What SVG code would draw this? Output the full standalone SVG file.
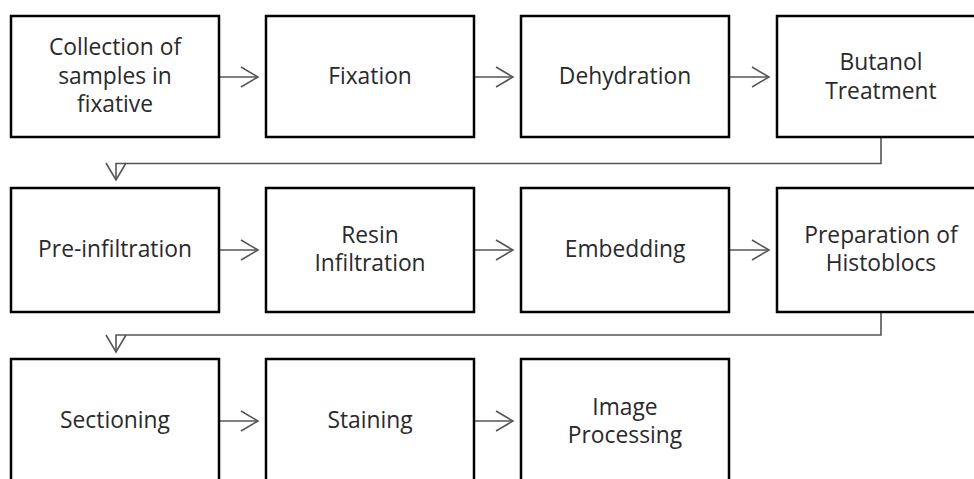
<svg xmlns="http://www.w3.org/2000/svg" width="974" height="479" viewBox="0 0 974 479">
<defs>
<marker id="arr" markerUnits="userSpaceOnUse" markerWidth="20" markerHeight="24" refX="17.5" refY="11" orient="auto" overflow="visible">
<path d="M0.5,1 L17.5,11 L0.5,21" fill="none" stroke="#555" stroke-width="1.6"/>
</marker>
<style>
.box{fill:#fff;stroke:#000;stroke-width:2.5}
.lbl{font-family:"Open Sans","Liberation Sans",sans-serif;font-size:22.8px;fill:#2a2a2a;text-anchor:middle}
.con{fill:none;stroke:#555;stroke-width:1.6;marker-end:url(#arr)}
</style>
</defs>
<rect width="974" height="479" fill="#fff"/>
<g id="connectors">
<path class="con" d="M219,77 H258"/>
<path class="con" d="M474,77 H513"/>
<path class="con" d="M729,77 H769"/>
<path class="con" d="M881,138 V163.5 H116 V180"/>
<path class="con" d="M219,250 H258"/>
<path class="con" d="M474,250 H513"/>
<path class="con" d="M729,250 H769"/>
<path class="con" d="M881,312 V335 H116 V352"/>
<path class="con" d="M219,421 H258"/>
<path class="con" d="M474,421 H513"/>
</g>
<g id="n1"><rect class="box" x="11" y="16" width="208" height="121"/><text class="lbl" x="115" y="55">Collection of</text><text class="lbl" x="115" y="83.5">samples in</text><text class="lbl" x="115" y="112">fixative</text></g>
<g id="n2"><rect class="box" x="266" y="16" width="208" height="121"/><text class="lbl" x="370" y="84">Fixation</text></g>
<g id="n3"><rect class="box" x="521" y="16" width="208" height="121"/><text class="lbl" x="625" y="84">Dehydration</text></g>
<g id="n4"><rect class="box" x="777" y="16" width="208" height="121"/><text class="lbl" x="881" y="70">Butanol</text><text class="lbl" x="881" y="99">Treatment</text></g>
<g id="n5"><rect class="box" x="11" y="188" width="208" height="124"/><text class="lbl" x="115" y="257">Pre-infiltration</text></g>
<g id="n6"><rect class="box" x="266" y="188" width="208" height="124"/><text class="lbl" x="370" y="243">Resin</text><text class="lbl" x="370" y="271">Infiltration</text></g>
<g id="n7"><rect class="box" x="521" y="188" width="208" height="124"/><text class="lbl" x="625" y="257">Embedding</text></g>
<g id="n8"><rect class="box" x="777" y="188" width="208" height="124"/><text class="lbl" x="881" y="243">Preparation of</text><text class="lbl" x="881" y="271">Histoblocs</text></g>
<g id="n9"><rect class="box" x="11" y="359" width="208" height="130"/><text class="lbl" x="115" y="428">Sectioning</text></g>
<g id="n10"><rect class="box" x="266" y="359" width="208" height="130"/><text class="lbl" x="370" y="428">Staining</text></g>
<g id="n11"><rect class="box" x="521" y="359" width="208" height="130"/><text class="lbl" x="625" y="415">Image</text><text class="lbl" x="625" y="443">Processing</text></g>
</svg>
